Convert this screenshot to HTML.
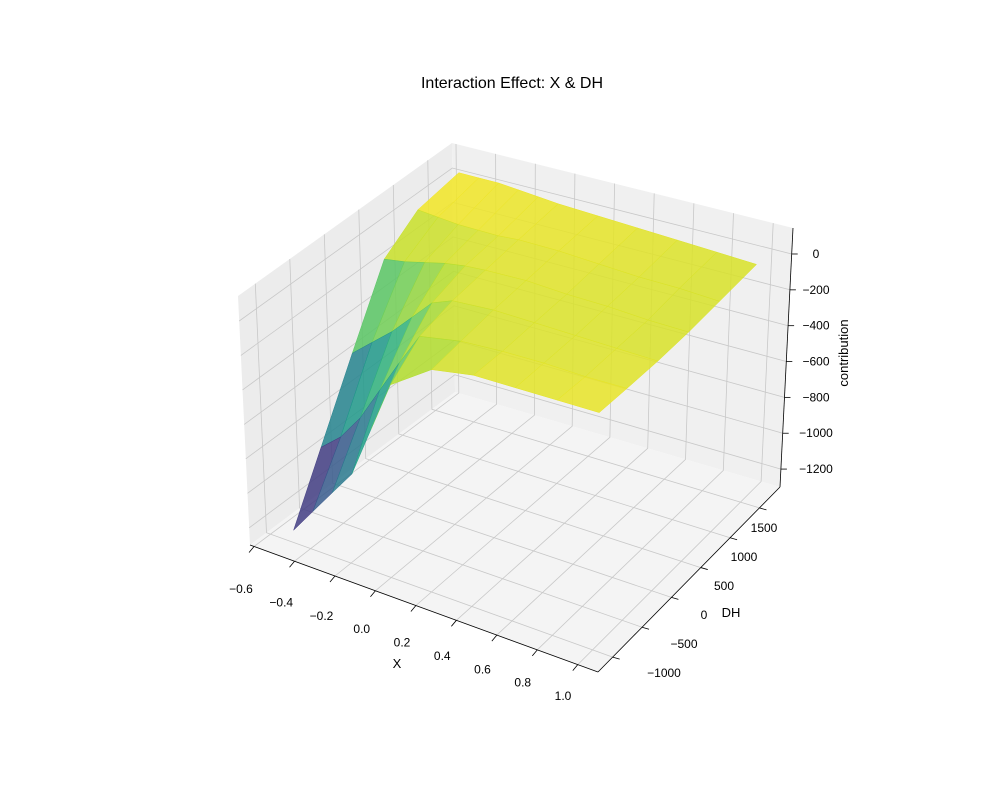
<!DOCTYPE html>
<html><head><meta charset="utf-8"><style>
body{margin:0;background:#fff}
svg{display:block;font-family:"Liberation Sans",sans-serif}
</style></head><body>
<svg id="chart" width="1000" height="800" xmlns="http://www.w3.org/2000/svg">
<text x="512" y="88" font-size="16" text-anchor="middle">Interaction Effect: X &amp; DH</text>
<g id="panes"></g><g id="surface"></g><g id="axes"></g>
<text x="397" y="668" font-size="13" text-anchor="middle">X</text>
<text x="731" y="617" font-size="13" text-anchor="middle">DH</text>
<text x="848" y="353" font-size="13" text-anchor="middle" transform="rotate(-90 848 353)">contribution</text>
</svg>
<script>
const xTicks=[-0.6,-0.4,-0.2,0.0,0.2,0.4,0.6,0.8,1.0];
const xTickLabels=["−0.6","−0.4","−0.2","0.0","0.2","0.4","0.6","0.8","1.0"];
const dhTicks=[-1000,-500,0,500,1000,1500];
const dhTickLabels=["−1000","−500","0","500","1000","1500"];
const zTicks=[0,-200,-400,-600,-800,-1000,-1200];
const zTickLabels=["0","−200","−400","−600","−800","−1000","−1200"];
const gridX=[-0.5,-0.4,-0.3,-0.2,-0.1,0.0,0.2,0.4,0.6,0.8,1.0];
const gridDH=[-950,-500,0,500,1000,1600];
const gridZ=[
[-1250,-900,-500,-100,40,80],
[-1100,-800,-400,-80,30,80],
[-950,-650,-300,-50,20,80],
[-800,-450,-180,-20,20,70],
[-500,-250,-60,0,20,60],
[-200,-60,-10,10,30,50],
[-30,-10,10,20,30,40],
[20,10,10,10,20,30],
[30,20,10,10,10,20],
[40,20,10,0,10,10],
[50,30,10,0,0,0]];
const XR=[-0.62,1.1],DR=[-1250,1850],ZR=[-1300,145];
const C={b:{"00":[250,545],"10":[598,672],"11":[780,487],"01":[455,392]},
         t:{"00":[238,296],"10":[602,422],"11":[793,228],"01":[452,143]}};
function lerp(p,q,f){return [p[0]+(q[0]-p[0])*f,p[1]+(q[1]-p[1])*f];}
function P(x,d,z){const a=(x-XR[0])/(XR[1]-XR[0]),b=(d-DR[0])/(DR[1]-DR[0]),c=(z-ZR[0])/(ZR[1]-ZR[0]);
function lay(L){return lerp(lerp(L["00"],L["10"],a),lerp(L["01"],L["11"],a),b);}
return lerp(lay(C.b),lay(C.t),c);}
const NS="http://www.w3.org/2000/svg";
function el(t,at,parent){const e=document.createElementNS(NS,t);for(const k in at)e.setAttribute(k,at[k]);document.getElementById(parent).appendChild(e);return e;}
function pts(a){return a.map(p=>p[0].toFixed(1)+","+p[1].toFixed(1)).join(" ");}
const x0=XR[0],x1=XR[1],d0=DR[0],d1=DR[1],z0=ZR[0],z1=ZR[1];
let e;
e=el("polygon",{points:pts([P(x0,d0,z0),P(x0,d1,z0),P(x0,d1,z1),P(x0,d0,z1)]),fill:"#ececec",stroke:"none"},"panes");

e=el("polygon",{points:pts([P(x0,d1,z0),P(x1,d1,z0),P(x1,d1,z1),P(x0,d1,z1)]),fill:"#f0f0f0",stroke:"none"},"panes");

e=el("polygon",{points:pts([P(x0,d0,z0),P(x1,d0,z0),P(x1,d1,z0),P(x0,d1,z0)]),fill:"#f4f4f4",stroke:"none"},"panes");

const gs={stroke:"#c8c8c8","stroke-width":0.8,fill:"none"};
xTicks.forEach(v=>{e=el("polyline",Object.assign({points:pts([P(v,d0,z0),P(v,d1,z0),P(v,d1,z1)])},gs),"panes");
});
dhTicks.forEach(v=>{e=el("polyline",Object.assign({points:pts([P(x1,v,z0),P(x0,v,z0),P(x0,v,z1)])},gs),"panes");
});
zTicks.forEach(v=>{e=el("polyline",Object.assign({points:pts([P(x0,d0,v),P(x0,d1,v),P(x1,d1,v)])},gs),"panes");
});
const V=[[68,1,84],[72,40,120],[62,74,137],[49,104,142],[38,130,142],[31,158,137],[53,183,121],[110,206,88],[181,222,43],[253,231,37]];
function vir(t){t=Math.max(0,Math.min(1,t))*(V.length-1);const i=Math.min(V.length-2,Math.floor(t)),f=t-i;
return "rgb("+V[i].map((c,k)=>Math.round(c+(V[i+1][k]-c)*f)).join(",")+")";}
let zmin=Infinity,zmax=-Infinity;gridZ.forEach(r=>r.forEach(v=>{zmin=Math.min(zmin,v);zmax=Math.max(zmax,v);}));
const quads=[];
for(let i=0;i<gridX.length-1;i++)for(let j=0;j<gridDH.length-1;j++){
const c=[[i,j],[i+1,j],[i+1,j+1],[i,j+1]];
const zm=c.reduce((s,q)=>s+gridZ[q[0]][q[1]],0)/4;
const xm=(gridX[i]+gridX[i+1])/2,dm=(gridDH[j]+gridDH[j+1])/2;
const depth=(dm-d0)/(d1-d0)-(xm-x0)/(x1-x0);
quads.push({c,zm,depth});}
quads.sort((a,b)=>b.depth-a.depth);
quads.forEach(q=>{const col=vir((q.zm-zmin)/(zmax-zmin));
e=el("polygon",{points:pts(q.c.map(k=>P(gridX[k[0]],gridDH[k[1]],gridZ[k[0]][k[1]]))),fill:col,"fill-opacity":0.85,stroke:col,"stroke-width":0.5},"surface");
});
const ax={stroke:"#000","stroke-width":0.8};
e=el("line",Object.assign({x1:P(x0,d0,z0)[0],y1:P(x0,d0,z0)[1],x2:P(x1,d0,z0)[0],y2:P(x1,d0,z0)[1]},ax),"axes");

e=el("line",Object.assign({x1:P(x1,d0,z0)[0],y1:P(x1,d0,z0)[1],x2:P(x1,d1,z0)[0],y2:P(x1,d1,z0)[1]},ax),"axes");

e=el("line",Object.assign({x1:P(x1,d1,z0)[0],y1:P(x1,d1,z0)[1],x2:P(x1,d1,z1)[0],y2:P(x1,d1,z1)[1]},ax),"axes");

xTicks.forEach((v,k)=>{const a=P(v,d0,z0);
e=el("line",Object.assign({x1:a[0],y1:a[1],x2:a[0]-5,y2:a[1]+6},ax),"axes");

const f=(v+0.6)/1.6;
e=el("text",{x:241+322*f,y:593+107*f,"font-size":12,"text-anchor":"middle"},"axes");e.textContent=xTickLabels[k];
});
dhTicks.forEach((v,k)=>{const a=P(x1,v,z0);
e=el("line",Object.assign({x1:a[0],y1:a[1],x2:a[0]+7,y2:a[1]+2},ax),"axes");

const f=(v+1000)/2500;
e=el("text",{x:664+100*f,y:677-145*f,"font-size":12,"text-anchor":"middle"},"axes");e.textContent=dhTickLabels[k];
});
zTicks.forEach((v,k)=>{const a=P(x1,d1,v);
e=el("line",Object.assign({x1:a[0],y1:a[1],x2:a[0]+6,y2:a[1]},ax),"axes");

const y=254+(0-v)/1200*215;
e=el("text",{x:816,y:y+4,"font-size":12,"text-anchor":"middle"},"axes");e.textContent=zTickLabels[k];
});
</script>
</body></html>
